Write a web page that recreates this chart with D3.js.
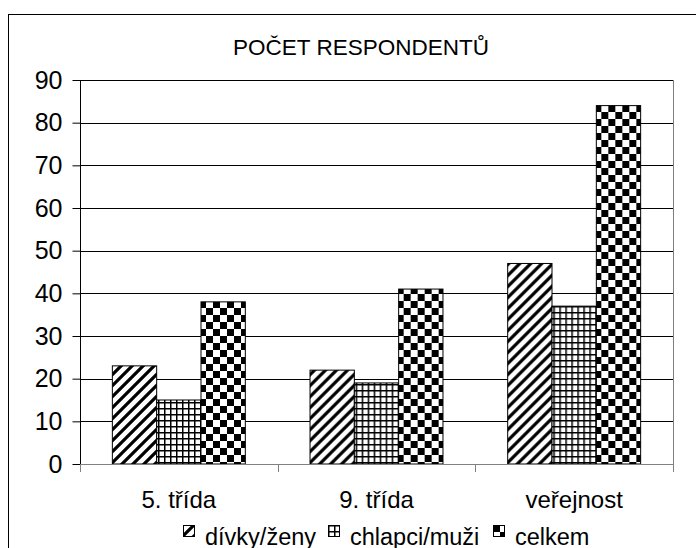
<!DOCTYPE html>
<html>
<head>
<meta charset="utf-8">
<script src="https://cdnjs.cloudflare.com/ajax/libs/d3/7.8.5/d3.min.js"></script>
<style>
  body { margin: 0; background: #fff; }
  svg text { font-family: "Liberation Sans", Arial, sans-serif; fill: #000; }
</style>
</head>
<body>
<div id="entry"></div>
<script>
var categories = ['5. třída', '9. třída', 'veřejnost'];
var seriesNames = ['dívky/ženy', 'chlapci/muži', 'celkem'];
var divky = [23, 22, 47];
var chlapci = [15, 19, 37];
var celkem = [38, 41, 84];
var yTicks = [0, 10, 20, 30, 40, 50, 60, 70, 80, 90];
var title = 'POČET RESPONDENTŮ';

var W = 696, H = 548;
var plot = {left: 80, right: 673, top: 80, bottom: 464};

var svg = d3.select('#entry').append('svg')
  .attr('width', W)
  .attr('height', H);

// patterns
var defs = svg.append('defs');
var hatch = defs.append('pattern').attr('id', 'p0')
  .attr('patternUnits', 'userSpaceOnUse').attr('width', 11).attr('height', 11);
hatch.append('rect').attr('width', 11).attr('height', 11).attr('fill', '#fff');
hatch.append('path').attr('d', 'M-3,3 L3,-3 M0,11 L11,0 M8,14 L14,8')
  .attr('stroke', '#000').attr('stroke-width', 3.2);

var grid = defs.append('pattern').attr('id', 'p1')
  .attr('patternUnits', 'userSpaceOnUse').attr('width', 6).attr('height', 6);
grid.append('rect').attr('width', 6).attr('height', 6).attr('fill', '#fff');
grid.append('path').attr('d', 'M0.75,0 V6 M0,0.75 H6')
  .attr('stroke', '#000').attr('stroke-width', 1.5);

var check = defs.append('pattern').attr('id', 'p2')
  .attr('patternUnits', 'userSpaceOnUse').attr('width', 14).attr('height', 14);
check.append('rect').attr('width', 14).attr('height', 14).attr('fill', '#fff');
check.append('rect').attr('width', 7).attr('height', 7).attr('fill', '#000');
check.append('rect').attr('x', 7).attr('y', 7).attr('width', 7).attr('height', 7).attr('fill', '#000');

var fills = ['url(#p0)', 'url(#p1)', 'url(#p2)'];

// outer frame
svg.append('rect')
  .attr('x', 8.5).attr('y', 14.5)
  .attr('width', 720).attr('height', 600)
  .attr('fill', 'none').attr('stroke', '#000').attr('stroke-width', 1);

svg.append('text')
  .attr('x', 361).attr('y', 55)
  .attr('text-anchor', 'middle')
  .style('font-size', '22.5px')
  .text(title);

var y = d3.scaleLinear().domain([0, 90]).range([plot.bottom, plot.top]);
var x0 = d3.scaleBand().domain(categories).range([plot.left, plot.right]).paddingInner(0).paddingOuter(0);
var x1 = d3.scaleBand().domain(seriesNames).range([0, x0.bandwidth()]).paddingInner(0).paddingOuter(0.73);

// gridlines
svg.append('g')
  .selectAll('line')
  .data(yTicks.slice(1))
  .enter().append('line')
  .attr('x1', plot.left).attr('x2', plot.right)
  .attr('y1', function(d) { return Math.round(y(d)) + 0.5; })
  .attr('y2', function(d) { return Math.round(y(d)) + 0.5; })
  .attr('stroke', '#000');

// right border of plot area
svg.append('line')
  .attr('x1', plot.right + 0.5).attr('x2', plot.right + 0.5)
  .attr('y1', plot.top).attr('y2', plot.bottom + 8)
  .attr('stroke', '#808080');

var data = categories.map(function(c, i) {
  return {cat: c, vals: [divky[i], chlapci[i], celkem[i]]};
});

var groups = svg.append('g').selectAll('g')
  .data(data)
  .enter().append('g')
  .attr('transform', function(d) { return 'translate(' + x0(d.cat) + ',0)'; });

groups.selectAll('rect')
  .data(function(d) { return d.vals.map(function(v, i) { return {s: seriesNames[i], v: v, i: i}; }); })
  .enter().append('rect')
  .attr('x', function(d) { return x1(d.s); })
  .attr('y', function(d) { return y(d.v); })
  .attr('width', x1.bandwidth())
  .attr('height', function(d) { return y(0) - y(d.v); })
  .attr('fill', function(d) { return fills[d.i]; })
  .attr('stroke', '#000')
  .attr('stroke-width', 1);

// y axis
var yAxis = d3.axisLeft(y).tickValues(yTicks).tickSize(8).tickPadding(10);
var gy = svg.append('g')
  .attr('transform', 'translate(' + (plot.left + 0.5) + ',0)')
  .call(yAxis);
gy.select('.domain').attr('stroke', '#000').attr('d', 'M0,' + plot.top + 'V' + plot.bottom);
gy.selectAll('.tick line').attr('stroke', '#000');
gy.selectAll('.tick text').style('font-size', '25px');
gy.attr('font-family', null).attr('font-size', null);

// x axis
var xAxis = d3.axisBottom(x0).tickSize(0).tickPadding(26);
var gx = svg.append('g')
  .attr('transform', 'translate(0,' + (plot.bottom + 0.5) + ')')
  .call(xAxis);
gx.select('.domain').attr('stroke', '#808080').attr('d', 'M' + plot.left + ',0H' + plot.right);
gx.selectAll('.tick text').style('font-size', '24px').attr('dy', '0.71em');
gx.attr('font-family', null).attr('font-size', null);

// boundary ticks
var bounds = categories.map(function(c) { return x0(c); }).concat([plot.right]);
svg.append('g').selectAll('line')
  .data(bounds)
  .enter().append('line')
  .attr('x1', function(d) { return Math.round(d) + 0.5; })
  .attr('x2', function(d) { return Math.round(d) + 0.5; })
  .attr('y1', plot.bottom).attr('y2', plot.bottom + 8)
  .attr('stroke', '#808080');

// legend
var legendX = [183, 328, 493];
var legend = svg.append('g').selectAll('g')
  .data(seriesNames)
  .enter().append('g')
  .attr('transform', function(d, i) { return 'translate(' + legendX[i] + ',525)'; });
legend.append('rect')
  .attr('x', 0.5).attr('y', 0.5)
  .attr('width', 11).attr('height', 11)
  .attr('fill', function(d, i) { return fills[i]; })
  .attr('stroke', '#000');
legend.append('text')
  .attr('x', 22).attr('y', 20)
  .style('font-size', '23.5px')
  .text(function(d) { return d; });
</script>
</body>
</html>
